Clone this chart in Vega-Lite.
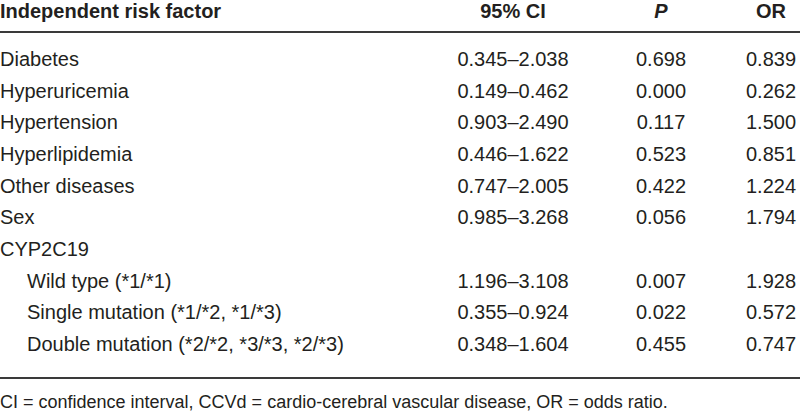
{
  "$schema": "https://vega.github.io/schema/vega-lite/v6.json",
  "width": 800,
  "height": 413,
  "padding": 0,
  "autosize": {"type": "none"},
  "background": "white",
  "config": {"view": {"stroke": null}},
  "datasets": {
    "cells": [
      {"r": 0, "c": 0, "t": "Independent risk factor", "kind": "head"},
      {"r": 0, "c": 2, "t": "95% CI", "kind": "head"},
      {"r": 0, "c": 3, "t": "P", "kind": "headItalic"},
      {"r": 0, "c": 4, "t": "OR", "kind": "head"},
      {"r": 1, "c": 0, "t": "Diabetes", "kind": "label"},
      {"r": 1, "c": 2, "t": "0.345–2.038", "kind": "num"},
      {"r": 1, "c": 3, "t": "0.698", "kind": "num"},
      {"r": 1, "c": 4, "t": "0.839", "kind": "num"},
      {"r": 2, "c": 0, "t": "Hyperuricemia", "kind": "label"},
      {"r": 2, "c": 2, "t": "0.149–0.462", "kind": "num"},
      {"r": 2, "c": 3, "t": "0.000", "kind": "num"},
      {"r": 2, "c": 4, "t": "0.262", "kind": "num"},
      {"r": 3, "c": 0, "t": "Hypertension", "kind": "label"},
      {"r": 3, "c": 2, "t": "0.903–2.490", "kind": "num"},
      {"r": 3, "c": 3, "t": "0.117", "kind": "num"},
      {"r": 3, "c": 4, "t": "1.500", "kind": "num"},
      {"r": 4, "c": 0, "t": "Hyperlipidemia", "kind": "label"},
      {"r": 4, "c": 2, "t": "0.446–1.622", "kind": "num"},
      {"r": 4, "c": 3, "t": "0.523", "kind": "num"},
      {"r": 4, "c": 4, "t": "0.851", "kind": "num"},
      {"r": 5, "c": 0, "t": "Other diseases", "kind": "label"},
      {"r": 5, "c": 2, "t": "0.747–2.005", "kind": "num"},
      {"r": 5, "c": 3, "t": "0.422", "kind": "num"},
      {"r": 5, "c": 4, "t": "1.224", "kind": "num"},
      {"r": 6, "c": 0, "t": "Sex", "kind": "label"},
      {"r": 6, "c": 2, "t": "0.985–3.268", "kind": "num"},
      {"r": 6, "c": 3, "t": "0.056", "kind": "num"},
      {"r": 6, "c": 4, "t": "1.794", "kind": "num"},
      {"r": 7, "c": 0, "t": "CYP2C19", "kind": "label"},
      {"r": 8, "c": 1, "t": "Wild type (*1/*1)", "kind": "label"},
      {"r": 8, "c": 2, "t": "1.196–3.108", "kind": "num"},
      {"r": 8, "c": 3, "t": "0.007", "kind": "num"},
      {"r": 8, "c": 4, "t": "1.928", "kind": "num"},
      {"r": 9, "c": 1, "t": "Single mutation (*1/*2, *1/*3)", "kind": "label"},
      {"r": 9, "c": 2, "t": "0.355–0.924", "kind": "num"},
      {"r": 9, "c": 3, "t": "0.022", "kind": "num"},
      {"r": 9, "c": 4, "t": "0.572", "kind": "num"},
      {"r": 10, "c": 1, "t": "Double mutation (*2/*2, *3/*3, *2/*3)", "kind": "label"},
      {"r": 10, "c": 2, "t": "0.348–1.604", "kind": "num"},
      {"r": 10, "c": 3, "t": "0.455", "kind": "num"},
      {"r": 10, "c": 4, "t": "0.747", "kind": "num"},
      {"r": 11, "c": 0, "t": "CI = confidence interval, CCVd = cardio-cerebral vascular disease, OR = odds ratio.", "kind": "foot"}
    ],
    "rules": [
      {"r": 0.5, "c0": 0, "c1": 5},
      {"r": 10.5, "c0": 0, "c1": 5}
    ]
  },
  "encoding": {
    "x": {"field": "c", "type": "quantitative", "axis": null,
          "scale": {"domain": [0, 1, 2, 3, 4, 5], "range": [0, 27, 513, 661, 771, 800], "zero": false, "nice": false}},
    "y": {"field": "r", "type": "quantitative", "axis": null,
          "scale": {"domain": [0, 0.5, 1, 10, 10.5, 11], "range": [18, 32, 66, 351, 378, 408], "zero": false, "nice": false}}
  },
  "layer": [
    {
      "data": {"name": "rules"},
      "mark": {"type": "rule", "color": "#3a3a3a", "strokeWidth": 2},
      "encoding": {
        "x": {"field": "c0", "type": "quantitative"},
        "x2": {"field": "c1"}
      }
    },
    {
      "data": {"name": "cells"},
      "transform": [{"filter": "datum.kind === 'head' && datum.c === 0"}],
      "mark": {"type": "text", "align": "left", "baseline": "alphabetic", "font": "Liberation Sans", "fontSize": 20, "fontWeight": "bold", "color": "#231f20"},
      "encoding": {"text": {"field": "t"}}
    },
    {
      "data": {"name": "cells"},
      "transform": [{"filter": "datum.kind === 'head' && datum.c > 0"}],
      "mark": {"type": "text", "align": "center", "baseline": "alphabetic", "font": "Liberation Sans", "fontSize": 20, "fontWeight": "bold", "color": "#231f20"},
      "encoding": {"text": {"field": "t"}}
    },
    {
      "data": {"name": "cells"},
      "transform": [{"filter": "datum.kind === 'headItalic'"}],
      "mark": {"type": "text", "align": "center", "baseline": "alphabetic", "font": "Liberation Sans", "fontSize": 20, "fontWeight": "bold", "fontStyle": "italic", "color": "#231f20"},
      "encoding": {"text": {"field": "t"}}
    },
    {
      "data": {"name": "cells"},
      "transform": [{"filter": "datum.kind === 'label'"}],
      "mark": {"type": "text", "align": "left", "baseline": "alphabetic", "font": "Liberation Sans", "fontSize": 20, "color": "#231f20"},
      "encoding": {"text": {"field": "t"}}
    },
    {
      "data": {"name": "cells"},
      "transform": [{"filter": "datum.kind === 'num'"}],
      "mark": {"type": "text", "align": "center", "baseline": "alphabetic", "font": "Liberation Sans", "fontSize": 20, "color": "#231f20"},
      "encoding": {"text": {"field": "t"}}
    },
    {
      "data": {"name": "cells"},
      "transform": [{"filter": "datum.kind === 'foot'"}],
      "mark": {"type": "text", "align": "left", "baseline": "alphabetic", "font": "Liberation Sans", "fontSize": 18, "color": "#231f20"},
      "encoding": {"text": {"field": "t"}}
    }
  ]
}
